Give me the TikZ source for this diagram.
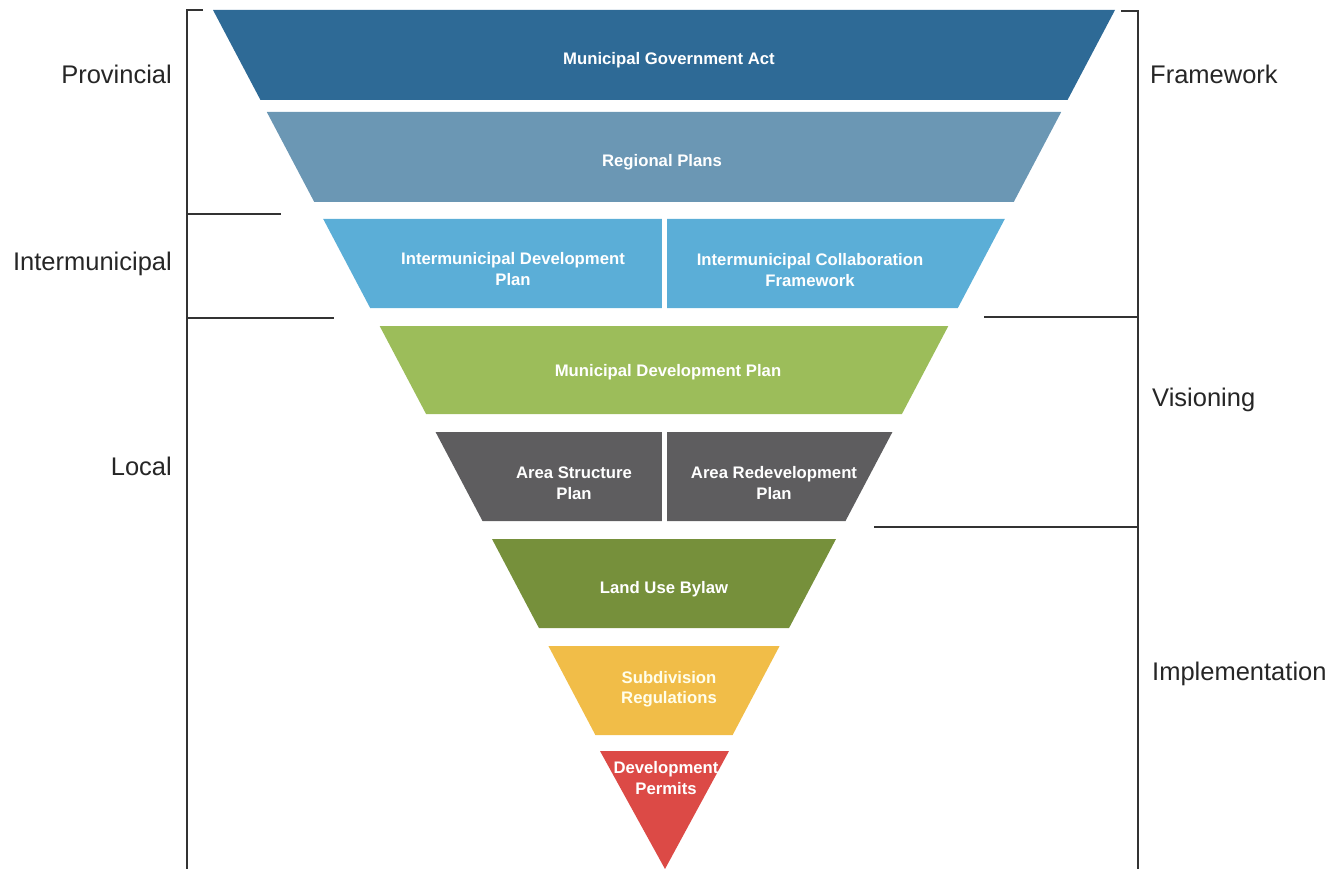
\documentclass[tikz,border=0pt]{standalone}
\usepackage{fontspec}
\setmainfont{Liberation Sans}
\usepackage{tikz}
\usetikzlibrary{positioning}

\definecolor{gact}{HTML}{2E6A96}
\definecolor{regn}{HTML}{6B97B4}
\definecolor{inter}{HTML}{5BAED7}
\definecolor{mdpc}{HTML}{9CBD5A}
\definecolor{area}{HTML}{5E5D5F}
\definecolor{bylaw}{HTML}{76903B}
\definecolor{subd}{HTML}{F1BD48}
\definecolor{permit}{HTML}{DC4A46}
\definecolor{rule}{HTML}{333333}

\tikzset{
  bandtext/.style={text=white, font=\bfseries\fontsize{16.7}{20.5}\selectfont, align=center, inner sep=0pt},
  sidetext/.style={text=black!85, font=\fontsize{25.5}{30}\selectfont, inner sep=0pt},
  bracket/.style={rule, line width=1.8pt}
}

\begin{document}
\begin{tikzpicture}[x=1pt, y=-1pt]
  \useasboundingbox (0,0) rectangle (1341,869);

  % the funnel, one band per level
  \foreach \t/\b/\c in {10/100/gact, 112/202/regn, 219/308/inter, 326/414/mdpc,
                        432/521/area, 539/628/bylaw, 646/735/subd} {
    \pgfmathsetmacro\lt{213+0.5274*(\t-10)}
    \pgfmathsetmacro\rt{1115-0.5274*(\t-10)}
    \pgfmathsetmacro\lb{213+0.5274*(\b-10)}
    \pgfmathsetmacro\rb{1115-0.5274*(\b-10)}
    \fill[\c] (\lt,\t) -- (\rt,\t) -- (\rb,\b) -- (\lb,\b) -- cycle;
  }
  \fill[permit] (600,751) -- (729,751) -- (665,869) -- cycle;
  \draw[white, line width=4.5pt] (664.5,215) -- (664.5,312);
  \draw[white, line width=4.5pt] (664.5,428) -- (664.5,525);

  \node[bandtext] (mga) at (669,60) {Municipal Government Act};
  \node[bandtext] (rp) at (662,162) {Regional Plans};
  \node[bandtext] (idp) at (513,269) {Intermunicipal Development\\Plan};
  \node[bandtext] (icf) at (810,270) {Intermunicipal Collaboration\\Framework};
  \node[bandtext] (mdp) at (668,372) {Municipal Development Plan};
  \node[bandtext] (asp) at (574,483) {Area Structure\\Plan};
  \node[bandtext] (ardp) at (774,483) {Area Redevelopment\\Plan};
  \node[bandtext] (lub) at (664,589) {Land Use Bylaw};
  \node[bandtext, text=white!92!yellow] (sr) at (669,689) {Subdivision\\Regulations};
  \node[bandtext] (dp) at (666,778) {Development\\Permits};

  % left bracket
  \draw[bracket] (203,10) -- (187,10) -- (187,869);
  \draw[bracket] (187,214) -- (281,214);
  \draw[bracket] (187,318) -- (334,318);
  \node[sidetext, anchor=east] (prov) at (172,74) {Provincial};
  \node[sidetext, anchor=east] (intm) at (172,264) {Intermunicipal};
  \node[sidetext, anchor=east] (local) at (172,466) {Local};

  % right bracket
  \draw[bracket] (1121,11) -- (1138,11) -- (1138,869);
  \draw[bracket] (984,317) -- (1138,317);
  \draw[bracket] (874,527) -- (1138,527);
  \node[sidetext, anchor=west] (frame) at (1150,74) {Framework};
  \node[sidetext, anchor=west] (vision) at (1152,400) {Visioning};
  \node[sidetext, anchor=west] (impl) at (1152,674) {Implementation};
\end{tikzpicture}
\end{document}
